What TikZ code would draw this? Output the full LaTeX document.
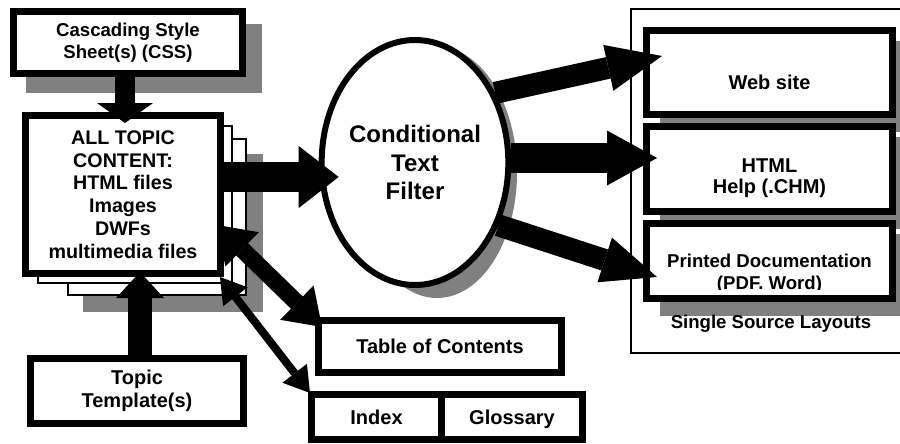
\documentclass[tikz,border=0pt]{standalone}
\usepackage{fontspec}
\setmainfont{Liberation Sans}
\usetikzlibrary{arrows.meta,positioning,shapes.geometric,calc,backgrounds}
\definecolor{ink}{HTML}{000000}
\definecolor{shade}{HTML}{808080}
\tikzset{
  box/.style={draw=ink,fill=white,line width=7pt,inner sep=0pt,align=center,
    font=\bfseries\fontsize{20}{22.6}\selectfont,text=ink},
  sheet/.style={draw=ink,fill=white,line width=2pt,inner sep=0pt},
  filt/.style={ellipse,draw=ink,fill=white,line width=6pt,inner sep=0pt,align=center,
    font=\bfseries\fontsize{24}{28.5}\selectfont,text=ink},
  lbl/.style={inner sep=0pt,align=center,font=\bfseries\fontsize{20}{21.5}\selectfont,text=ink},
  small/.style={font=\bfseries\fontsize{18.6}{22.4}\selectfont},
  drop/.style={fill=shade},
  cssarr/.style={draw=ink,line width=20pt,-{Triangle[length=20pt,width=56pt,line width=0pt]}},
  tplarr/.style={draw=ink,line width=24pt,-{Triangle[length=26pt,width=48pt,line width=0pt]}},
  mainarr/.style={draw=ink,line width=30pt,-{Triangle[length=40pt,width=62pt,line width=0pt]}},
  outarr/.style={draw=ink,line width=22pt,-{Triangle[length=55pt,width=47pt,line width=0pt]}},
  midarr/.style={draw=ink,line width=30pt,-{Triangle[length=50pt,width=55pt,line width=0pt]}},
  twoway/.style={draw=ink,line width=17pt,
    {Triangle[length=35pt,width=48pt,line width=0pt]}-{Triangle[length=35pt,width=48pt,line width=0pt]}},
  narrow/.style={draw=ink,line width=8pt,
    {Triangle[length=25pt,width=31pt,line width=0pt]}-{Triangle[length=25pt,width=31pt,line width=0pt]}}
}
\begin{document}
\begin{tikzpicture}[x=1pt,y=-1pt]
  \useasboundingbox (0,0) rectangle (900,444);
  % single source frame
  \node[draw=ink,line width=2pt,inner sep=0pt,minimum width=274pt,minimum height=344pt] (lay) at (768,181) {};
  \node[lbl,small] (layt) at (771,324.2) {Single Source Layouts};
  % sources
  \node[box,small,minimum width=229pt,minimum height=62pt] (css) at (128,42.5) {Cascading Style\\Sheet(s) (CSS)};
  \node[sheet,minimum width=178pt,minimum height=156pt] (pg3) at (157,217) {};
  \node[sheet,minimum width=194pt,minimum height=157pt] (pg2) at (135,204.5) {};
  \node[box,minimum width=195pt,minimum height=158pt,font=\bfseries\fontsize{19.7}{22.8}\selectfont]
    (cnt) at (123,194.5) {ALL TOPIC\\CONTENT:\\HTML files\\Images\\DWFs\\multimedia files};
  \node[box,minimum width=213pt,minimum height=65pt] (tpl) at (137,391) {Topic\\Template(s)};
  % filter
  \node[filt,minimum width=154pt,minimum height=245pt] (flt) at (415,162.5) {Conditional\\Text\\Filter};
  % navigation
  \node[box,minimum width=243pt,minimum height=52pt] (toc) at (440,346.5) {Table of Contents};
  \node[box,minimum width=130pt,minimum height=45pt,text height=14pt,text depth=0pt] (idx) at (376.5,417) {Index};
  \node[box,minimum width=141pt,minimum height=45pt,text height=14pt,text depth=0pt,right=-7pt of idx] (glo) {Glossary};
  % outputs
  \node[box,minimum width=246pt,minimum height=84pt] (web) at (769.5,72.5) {};
  \node[box,minimum width=246pt,minimum height=85pt] (htm) at (769.5,169) {};
  \node[box,minimum width=246pt,minimum height=75pt] (prt) at (769.5,261) {};
  \node[lbl] (webt) at (769.5,82.3) {Web site};
  \node[lbl] (htmt) at (769.5,178.2) {HTML\\Help (.CHM)};
  \begin{scope}
    \clip (prt.north west) rectangle ([yshift=13pt]prt.south east);
    \node[lbl,small] (prtt) at (769.5,273.4) {Printed Documentation\\(PDF. Word)};
  \end{scope}
  % shadows
  \begin{scope}[on background layer]
    \foreach \n/\dx/\dy in {css/16/16,pg3/16/16,web/17/14,htm/17/14,prt/17/14}
      {\fill[drop] ($(\n.north west)+(\dx,\dy)$) rectangle ($(\n.south east)+(\dx,\dy)$);}
    \fill[drop] ($(flt.center)+(22,10)$) ellipse (80 and 125.5);
  \end{scope}
  % block arrows
  \draw[cssarr] ([xshift=-3pt]css.south) -- ([xshift=2pt,yshift=-11pt]cnt.north);
  \draw[tplarr] ([xshift=3pt]tpl.north) -- ([xshift=17pt,yshift=5pt]cnt.south);
  \draw[mainarr] ([yshift=17.5pt]cnt.east) -- ([xshift=20pt,yshift=-14.5pt]flt.west);
  \draw[outarr] (flt.41) -- ([xshift=19pt,yshift=16.5pt]web.west);
  \draw[midarr] ([yshift=4.5pt]flt.east) -- ([xshift=14pt,yshift=11pt]htm.west);
  \draw[outarr] (flt.-37) -- ([xshift=14pt,yshift=-16pt]prt.west);
  \draw[twoway] ([xshift=-7pt,yshift=-30.5pt]cnt.east) -- ([xshift=7pt,yshift=-10pt]toc.north west);
  \draw[narrow] ([xshift=-4pt]cnt.south east) -- ([xshift=2pt,yshift=-2pt]idx.north west);
\end{tikzpicture}
\end{document}
